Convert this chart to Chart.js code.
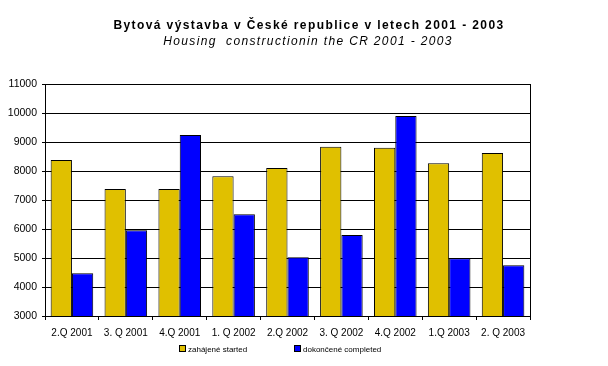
<!DOCTYPE html>
<html>
<head>
<meta charset="utf-8">
<script src="https://cdn.jsdelivr.net/npm/chart.js@4"></script>
<style>
  html, body { margin: 0; padding: 0; background: #fff; }
  #wrap { position: relative; width: 608px; height: 366px; }
  #legend { position: absolute; top: 344px; left: 0; width: 608px; height: 12px;
    font: 8px "Liberation Sans", Arial, sans-serif; color: #000; }
  .item { position: absolute; top: 0; white-space: nowrap; line-height: 12px; }
  .box { display: inline-block; width: 5px; height: 5px; border: 1px solid #000;
    vertical-align: middle; margin-right: 2px; margin-top: -2px; }
</style>
</head>
<body>
<div id="wrap">
  <canvas id="chart" width="608" height="366"></canvas>
  <div id="legend"></div>
</div>
<script>
const quarters = ["2.Q 2001", "3. Q 2001", "4.Q 2001", "1. Q 2002", "2.Q 2002", "3. Q 2002", "4.Q 2002", "1.Q 2003", "2. Q 2003"];
const started = [8380, 7380, 7380, 7820, 8100, 8840, 8800, 8270, 8620];
const completed = [4470, 5960, 9240, 6510, 5030, 5790, 9900, 4990, 4750];
const seriesNames = ["zahájené started", "dokončené completed"];
const seriesColors = ["#E0C000", "#0000FF"];
const yMin = 3000, yMax = 11000, yStep = 1000;
const titleText = "Bytová výstavba v České republice v letech 2001 - 2003";
const subtitleText = "Housing  constructionin the CR 2001 - 2003";

const font = "'Liberation Sans', Arial, sans-serif";

// title lines are drawn here so the wide letter spacing of the original can be kept
const titlePlugin = {
  id: "titles",
  afterDraw(chart) {
    const ctx = chart.ctx;
    ctx.save();
    ctx.fillStyle = "#000";
    ctx.textAlign = "center";
    ctx.textBaseline = "alphabetic";
    ctx.font = "bold 12px " + font;
    ctx.letterSpacing = "1.4px";
    ctx.fillText(titleText, 309, 28.5);
    ctx.font = "italic 12px " + font;
    ctx.letterSpacing = "1.35px";
    ctx.fillText(subtitleText, 308, 44.5);
    ctx.restore();
  },
};

const chart = new Chart(document.getElementById("chart"), {
  type: "bar",
  data: {
    labels: quarters,
    datasets: [
      { label: seriesNames[0], data: started, backgroundColor: seriesColors[0] },
      { label: seriesNames[1], data: completed, backgroundColor: seriesColors[1] },
    ],
  },
  plugins: [titlePlugin],
  options: {
    responsive: false,
    animation: false,
    devicePixelRatio: 1,
    layout: { padding: { left: 0, right: 78, top: 84, bottom: 20 } },
    datasets: {
      bar: {
        borderColor: "#000",
        borderWidth: 1,
        borderSkipped: false,
        categoryPercentage: 0.79,
        barPercentage: 1.0,
      },
    },
    scales: {
      x: {
        offset: true,
        grid: { offset: true, drawOnChartArea: false, drawTicks: true, tickLength: 4, color: "#000" },
        border: { color: "#000", width: 1 },
        ticks: { color: "#000", font: { family: font, size: 10 }, padding: 7, maxRotation: 0, autoSkip: false },
        afterFit: (s) => { s.height = 30; },
      },
      y: {
        min: yMin,
        max: yMax,
        ticks: {
          stepSize: yStep,
          color: "#000",
          font: { family: font, size: 10.5 },
          padding: 5,
          callback: (v) => String(v),
        },
        grid: { color: "#000", tickLength: 3, lineWidth: 1 },
        border: { color: "#000", width: 1 },
        afterFit: (s) => { s.width = 45; },
      },
      y2: {
        position: "right",
        min: yMin,
        max: yMax,
        ticks: { display: false },
        grid: { drawOnChartArea: false, drawTicks: false },
        border: { color: "#000", width: 1 },
        afterFit: (s) => { s.width = 0; },
      },
    },
    plugins: {
      legend: { display: false },
      tooltip: { enabled: false },
    },
  },
});

// legend below the axis, placed like the original
const legendLeft = [179, 294];
const legendEl = document.getElementById("legend");
seriesNames.forEach((name, i) => {
  const item = document.createElement("span");
  item.className = "item";
  item.style.left = legendLeft[i] + "px";
  const box = document.createElement("span");
  box.className = "box";
  box.style.background = seriesColors[i];
  item.appendChild(box);
  item.appendChild(document.createTextNode(name));
  legendEl.appendChild(item);
});
</script>
</body>
</html>
